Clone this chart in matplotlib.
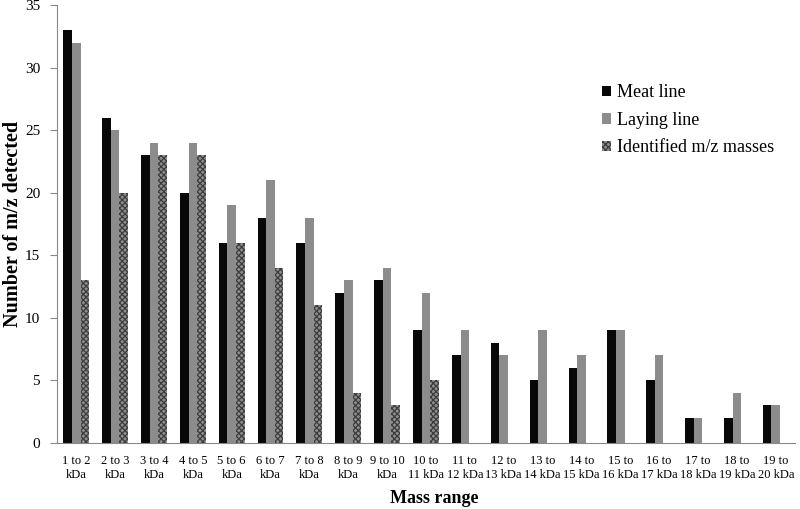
import matplotlib
matplotlib.use("Agg")
import matplotlib.pyplot as plt
import numpy as np

plt.rcParams['font.family'] = ['Liberation Serif', 'DejaVu Serif']
plt.rcParams['hatch.linewidth'] = 0.9

categories = ["1 to 2\nkDa", "2 to 3\nkDa", "3 to 4\nkDa", "4 to 5\nkDa", "5 to 6\nkDa",
              "6 to 7\nkDa", "7 to 8\nkDa", "8 to 9\nkDa", "9 to 10\nkDa", "10 to\n11 kDa",
              "11 to\n12 kDa", "12 to\n13 kDa", "13 to\n14 kDa", "14 to\n15 kDa", "15 to\n16 kDa",
              "16 to\n17 kDa", "17 to\n18 kDa", "18 to\n19 kDa", "19 to\n20 kDa"]
meat_line = [33, 26, 23, 20, 16, 18, 16, 12, 13, 9, 7, 8, 5, 6, 9, 5, 2, 2, 3]
laying_line = [32, 25, 24, 24, 19, 21, 18, 13, 14, 12, 9, 7, 9, 7, 9, 7, 2, 4, 3]
identified = [13, 20, 23, 23, 16, 14, 11, 4, 3, 5, 0, 0, 0, 0, 0, 0, 0, 0, 0]

fig = plt.figure(figsize=(8.0, 5.09), dpi=100)
ax = fig.add_axes([0.071, 0.1297, 0.923, 0.860])

x = np.arange(len(categories))
w = 0.222
ax.bar(x - w, meat_line, w, color='#080808', label='Meat line')
ax.bar(x, laying_line, w, color='#8c8c8c', label='Laying line')
ax.bar(x + w, identified, w, facecolor='#8e8e8e', edgecolor='#3c3c3c', linewidth=0,
       hatch='xxxxxx', label='Identified m/z masses')

ax.set_xlim(-0.5, len(categories) - 0.5)
ax.set_ylim(0, 35)
ax.set_yticks(range(0, 36, 5))
ax.set_xticks(x)
ax.set_xticklabels(categories, fontsize=9, linespacing=1.12)
ax.tick_params(axis='x', length=0, pad=9)
ax.tick_params(axis='y', labelsize=11, length=5, pad=7, color='#888888', direction='out')
for s in ['top', 'right']:
    ax.spines[s].set_visible(False)
for s in ['left', 'bottom']:
    ax.spines[s].set_color('#888888')

ax.set_ylabel('Number of m/z detected', fontsize=14.5, fontweight='bold')
ax.yaxis.set_label_coords(-0.046, 0.5)
ax.set_xlabel('Mass range', fontsize=13, fontweight='bold')
ax.xaxis.set_label_coords(0.511, -0.108)

ax.legend(loc='upper left', bbox_to_anchor=(0.7385, 0.819), frameon=False, fontsize=13,
          borderpad=0, borderaxespad=0,
          handlelength=0.5, handleheight=0.5, handletextpad=0.3, labelspacing=0.58)

fig.savefig('out.png', dpi=100)
